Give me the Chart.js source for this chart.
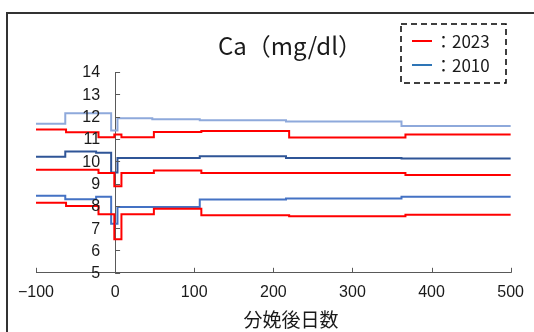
<!DOCTYPE html>
<html>
<head>
<meta charset="utf-8">
<title>Ca (mg/dl)</title>
<script src="https://cdn.jsdelivr.net/npm/chart.js@4.4.1/dist/chart.umd.min.js"></script>
<style>
    html, body { margin: 0; padding: 0; background: #fff; }
    #wrap { position: relative; width: 534px; height: 332px; }
</style>
</head>
<body>
<div id="wrap"><canvas id="chart" width="534" height="332"></canvas></div>
<script>
// Days after calving where each period starts (last entry closes the final step)
const days2023 = [-100, -62, -21, -1, 8, 49, 109, 220, 367, 500];
const days2010 = [-100, -63, -24, -5, 3, 47, 107, 216, 362, 500];

// Serum Ca (mg/dl): upper band, mean, lower band
const ca2023Upper = [11.42, 11.30, 11.08, 11.20, 11.08, 11.31, 11.36, 11.06, 11.20, 11.20];
const ca2023Mean  = [9.62, 9.62, 9.47, 8.88, 9.47, 9.58, 9.47, 9.47, 9.38, 9.38];
const ca2023Lower = [8.14, 7.99, 7.62, 6.50, 7.62, 7.87, 7.58, 7.53, 7.60, 7.60];

const ca2010Upper = [11.68, 12.15, 12.15, 11.38, 11.93, 11.88, 11.84, 11.78, 11.58, 11.58];
const ca2010Mean  = [10.20, 10.44, 10.38, 9.50, 10.14, 10.14, 10.22, 10.15, 10.12, 10.12];
const ca2010Lower = [8.45, 8.30, 8.41, 7.20, 7.95, 7.95, 8.29, 8.33, 8.41, 8.41];

const xTicks = [-100, 0, 100, 200, 300, 400, 500];
const yTicks = [5, 6, 7, 8, 9, 10, 11, 12, 13, 14];

const legendItems = [
    { label: '：2023', color: '#FF0000' },
    { label: '：2010', color: '#2E75B6' }
];

const RED = '#FF0000';
const AXIS = '#595959';
const TEXT = '#1a1a1a';
const NUM_FONT = '"Liberation Sans", Arial, sans-serif';
const JP_FONT = '"Noto Sans CJK JP", sans-serif';

function toPoints(days, values) {
    return days.map((d, i) => ({ x: d, y: values[i] }));
}

// each value holds until the next day in the list
function stepSeries(label, days, values, color) {
    return {
        label: label,
        data: toPoints(days, values),
        borderColor: color,
        backgroundColor: color,
        borderWidth: 2,
        stepped: 'before',
        pointRadius: 0,
        fill: false,
        clip: false
    };
}

// Red (2023) first so it sits on top of the blue lines
const datasets = [
    stepSeries('2023 upper', days2023, ca2023Upper, RED),
    stepSeries('2023 mean', days2023, ca2023Mean, RED),
    stepSeries('2023 lower', days2023, ca2023Lower, RED),
    stepSeries('2010 upper', days2010, ca2010Upper, '#8EA9DB'),
    stepSeries('2010 mean', days2010, ca2010Mean, '#2F5597'),
    stepSeries('2010 lower', days2010, ca2010Lower, '#4472C4')
];

// Frame, inward tick marks, y labels, titles and the dashed legend box
const decorations = {
    id: 'decorations',
    afterDraw(chart) {
        const ctx = chart.ctx;
        const xs = chart.scales.x;
        const ys = chart.scales.y;
        const x0 = xs.getPixelForValue(0);
        const yBase = ys.getPixelForValue(5);

        ctx.save();

        // outer frame (top and left edges only)
        ctx.strokeStyle = '#333';
        ctx.lineWidth = 2;
        ctx.beginPath();
        ctx.moveTo(7, 332);
        ctx.lineTo(7, 13);
        ctx.lineTo(534, 13);
        ctx.stroke();

        // tick marks
        ctx.strokeStyle = AXIS;
        ctx.lineWidth = 1;
        ctx.beginPath();
        yTicks.forEach(v => {
            const py = Math.round(ys.getPixelForValue(v)) + 0.5;
            ctx.moveTo(x0, py);
            ctx.lineTo(x0 + 5, py);
        });
        xTicks.forEach(v => {
            const px = Math.round(xs.getPixelForValue(v)) + 0.5;
            ctx.moveTo(px, yBase);
            ctx.lineTo(px, yBase - 5);
        });
        ctx.stroke();

        // y tick labels, right-aligned left of the axis at day 0
        ctx.fillStyle = TEXT;
        ctx.textAlign = 'right';
        ctx.textBaseline = 'middle';
        ctx.font = '16px ' + NUM_FONT;
        yTicks.forEach(v => {
            ctx.fillText(String(v), x0 - 15, ys.getPixelForValue(v) + 1);
        });

        // chart title
        ctx.textAlign = 'center';
        ctx.font = '24px ' + JP_FONT;
        ctx.fillText('Ca（mg/dl）', 290, 46);

        // x axis title
        ctx.font = '19px ' + JP_FONT;
        ctx.fillText('分娩後日数', 291, 320);

        // legend
        ctx.strokeStyle = '#000';
        ctx.lineWidth = 1.5;
        ctx.setLineDash([6, 4]);
        ctx.strokeRect(401, 24, 105, 59);
        ctx.setLineDash([]);
        ctx.textAlign = 'left';
        ctx.font = '17px ' + JP_FONT;
        legendItems.forEach((item, i) => {
            const ly = 41 + i * 24;
            ctx.strokeStyle = item.color;
            ctx.lineWidth = 2;
            ctx.beginPath();
            ctx.moveTo(412, ly);
            ctx.lineTo(432, ly);
            ctx.stroke();
            ctx.fillStyle = TEXT;
            ctx.fillText(item.label, 435, ly + 1);
        });

        ctx.restore();
    }
};

new Chart(document.getElementById('chart'), {
    type: 'line',
    data: { datasets: datasets },
    options: {
        responsive: false,
        animation: false,
        events: [],
        layout: { padding: { left: 36, right: 22, top: 72, bottom: 20 } },
        plugins: {
            legend: { display: false },
            tooltip: { enabled: false },
            title: { display: false }
        },
        scales: {
            x: {
                type: 'linear',
                min: -100,
                max: 500,
                grid: { display: false, drawTicks: false },
                border: { display: true, color: AXIS, width: 1 },
                afterBuildTicks: axis => { axis.ticks = xTicks.map(v => ({ value: v })); },
                ticks: {
                    padding: 10,
                    color: TEXT,
                    autoSkip: false,
                    font: { family: NUM_FONT, size: 16 },
                    maxRotation: 0,
                    callback: v => v < 0 ? '−' + Math.abs(v) : String(v)
                }
            },
            y: {
                type: 'linear',
                position: { x: 0 },
                min: 5,
                max: 14,
                grid: { display: false, drawTicks: false },
                border: { display: true, color: AXIS, width: 1 },
                afterBuildTicks: axis => { axis.ticks = yTicks.map(v => ({ value: v })); },
                ticks: { display: false }
            }
        }
    },
    plugins: [decorations]
});
</script>
</body>
</html>
